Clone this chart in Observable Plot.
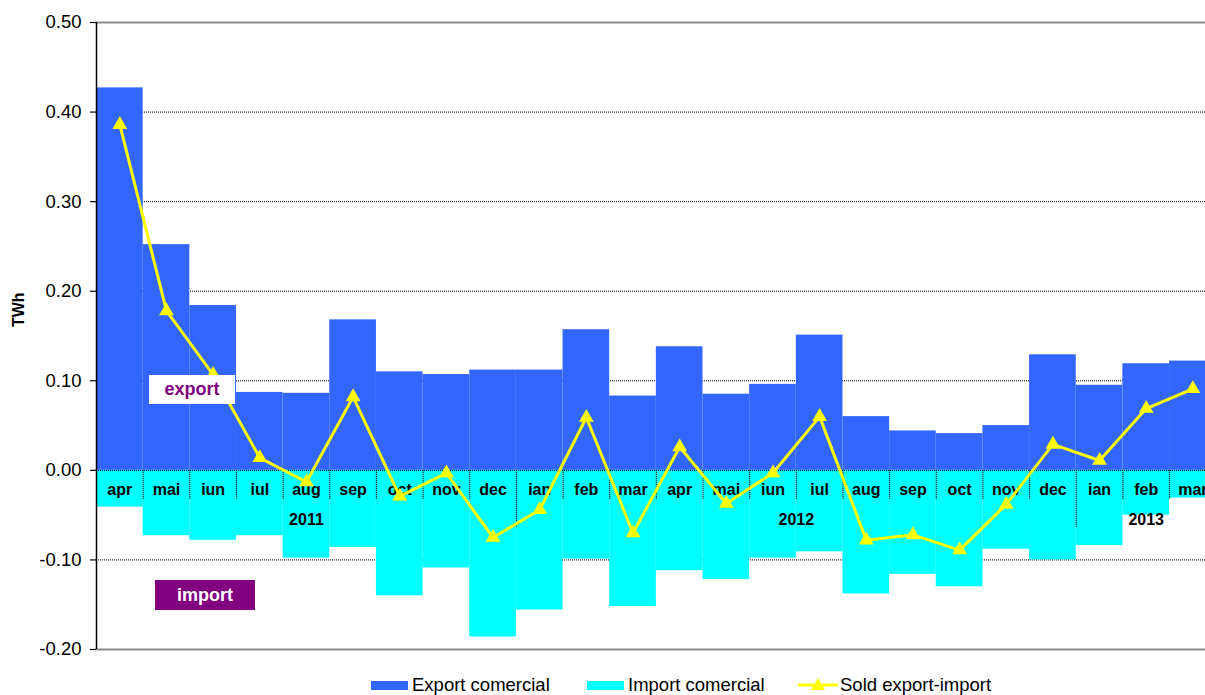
<!DOCTYPE html>
<html>
<head>
<meta charset="utf-8">
<script src="https://cdn.jsdelivr.net/npm/d3@7"></script>
<script src="https://cdn.jsdelivr.net/npm/@observablehq/plot@0.6"></script>
<style>
  html, body { margin: 0; padding: 0; background: #fff; }
  body { font-family: "Liberation Sans", Arial, sans-serif; }
  #wrap { position: relative; width: 1205px; height: 695px; overflow: hidden; }
  #chart { position: absolute; left: 0; top: 0; }
  .note { position: absolute; font-weight: bold; font-size: 18px; text-align: center; box-sizing: border-box; z-index: 2; }
  #noteExport { left: 149px; top: 375px; width: 86px; height: 29px; line-height: 29px; background: #fff; color: #800080; }
  #noteImport { left: 155px; top: 580px; width: 100px; height: 30px; line-height: 30px; background: #800080; color: #fff; }
  .leg { position: absolute; top: 674px; height: 22px; display: flex; align-items: center; font-size: 18.5px; color: #000; white-space: nowrap; }
  .sw { display: inline-block; width: 37px; height: 9px; margin-right: 4px; }
</style>
</head>
<body>
<div id="wrap">
  <div id="chart"></div>
  <div class="note" id="noteExport">export</div>
  <div class="note" id="noteImport">import</div>
  <div class="leg" style="left:371px"><span class="sw" style="background:#3366FF"></span>Export comercial</div>
  <div class="leg" style="left:587px"><span class="sw" style="background:#00FFFF"></span>Import comercial</div>
  <div class="leg" style="left:798px"><svg width="41" height="16" style="margin-right:1px"><line x1="0" y1="8" x2="40" y2="8" stroke="#FFFF00" stroke-width="3"/><path d="M20,1 L27,13 L13,13 Z" fill="#FFFF00"/></svg>Sold export-import</div>
</div>
<script>
const months = ["apr","mai","iun","iul","aug","sep","oct","nov","dec","ian","feb","mar",
                "apr","mai","iun","iul","aug","sep","oct","nov","dec","ian","feb","mar"];
const exportValues = [0.427, 0.252, 0.184, 0.087, 0.086, 0.168, 0.110, 0.107, 0.112, 0.112, 0.157, 0.083,
                      0.138, 0.085, 0.096, 0.151, 0.060, 0.044, 0.041, 0.050, 0.129, 0.095, 0.119, 0.122];
const importValues = [-0.041, -0.073, -0.078, -0.073, -0.098, -0.086, -0.140, -0.109, -0.186, -0.156, -0.099, -0.152,
                      -0.112, -0.122, -0.098, -0.091, -0.138, -0.116, -0.130, -0.088, -0.100, -0.084, -0.050, -0.031];
const soldValues = [0.386, 0.178, 0.107, 0.014, -0.013, 0.082, -0.029, -0.003, -0.075, -0.044, 0.059, -0.070,
                    0.026, -0.037, -0.003, 0.060, -0.078, -0.072, -0.089, -0.038, 0.029, 0.011, 0.069, 0.091];
const yearLabels = ["2011", "2012", "2013"];
const yearFirstIndex = [0, 9, 21];
const yearLastIndex = [8, 20, 23];
const yTicks = [0.5, 0.4, 0.3, 0.2, 0.1, 0, -0.1, -0.2];
const gridValues = [0.4, 0.3, 0.2, 0.1, -0.1];

const rows = months.map((m, i) => ({i, month: m, exp: exportValues[i], imp: importValues[i], sold: soldValues[i]}));
const years = yearLabels.map((y, k) => ({year: y, center: (yearFirstIndex[k] + yearLastIndex[k]) / 2}));
const yearStarts = new Set(yearFirstIndex);
const shortSeps = rows.filter(d => d.i > 0 && !yearStarts.has(d.i));
const longSeps = rows.filter(d => d.i > 0 && yearStarts.has(d.i));

const chart = Plot.plot({
  width: 1205,
  height: 665,
  marginLeft: 96,
  marginRight: -10.7,
  marginTop: 22,
  marginBottom: 16,
  style: {fontFamily: "'Liberation Sans', Arial, sans-serif", fontSize: "18.5px", color: "#000", background: "#fff", overflow: "hidden"},
  x: {type: "linear", domain: [-0.5, 23.5], axis: null},
  y: {domain: [-0.2, 0.5], axis: null},
  marks: [
    Plot.ruleY(gridValues, {stroke: "#000", strokeDasharray: "1,1", strokeWidth: 1}),
    Plot.rectY(rows, {x1: d => d.i - 0.5, x2: d => d.i + 0.5, y1: 0, y2: "exp", fill: "#3366FF"}),
    Plot.rectY(rows, {x1: d => d.i - 0.5, x2: d => d.i + 0.5, y1: 0, y2: "imp", fill: "#00FFFF"}),
    Plot.ruleY([0], {stroke: "#000", strokeDasharray: "1,1", strokeWidth: 1}),
    Plot.ruleY([0.5], {stroke: "#8c8c8c", strokeWidth: 2}),
    Plot.ruleY([-0.2], {stroke: "#8c8c8c", strokeWidth: 2}),
    Plot.ruleX(shortSeps, {x: d => d.i - 0.5, y1: 0, y2: 0, insetBottom: -29, stroke: "#000", strokeDasharray: "1,1", strokeWidth: 1.2}),
    Plot.ruleX(longSeps, {x: d => d.i - 0.5, y1: 0, y2: 0, insetBottom: -58, stroke: "#000", strokeDasharray: "1,1", strokeWidth: 1.2}),
    Plot.ruleX([-0.5], {y1: -0.2, y2: 0.5, stroke: "#000", strokeWidth: 1.5}),
    Plot.axisY({ticks: yTicks, tickFormat: d => d.toFixed(2), tickSize: 6, tickPadding: 9, fontSize: 18.5, stroke: "#000", strokeWidth: 1.2}),
    Plot.text(["TWh"], {text: d => d, frameAnchor: "left", rotate: -90, dx: -78, dy: -9, fontWeight: "bold", fontSize: 16, fill: "#000"}),
    Plot.text(rows, {x: "i", y: 0, text: "month", dy: 20, fontWeight: "bold", fontSize: 16, fill: "#000"}),
    Plot.text(years, {x: "center", y: 0, text: "year", dy: 50, fontWeight: "bold", fontSize: 16, fill: "#000"}),
    Plot.line(rows, {x: "i", y: "sold", stroke: "#FFFF00", strokeWidth: 3}),
    Plot.dot(rows, {x: "i", y: "sold", symbol: "triangle", r: 5.5, fill: "#FFFF00", stroke: "none"})
  ]
});
document.getElementById("chart").appendChild(chart);
</script>
</body>
</html>
